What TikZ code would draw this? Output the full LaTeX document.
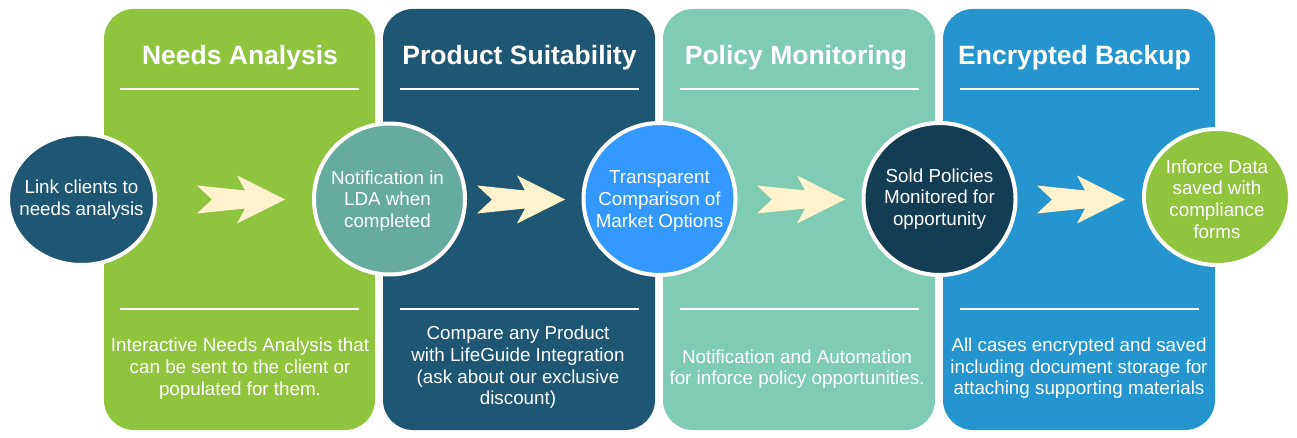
\documentclass[tikz,border=0pt]{standalone}
\usepackage{fontspec}
\setmainfont{Liberation Sans}
\usetikzlibrary{shapes.geometric}
\definecolor{pgreen}{HTML}{8FC43F}
\definecolor{pnavy}{HTML}{1E5674}
\definecolor{pmint}{HTML}{80CBB3}
\definecolor{pblue}{HTML}{2595CF}
\definecolor{cteal}{HTML}{66AB9E}
\definecolor{cbright}{HTML}{3399FF}
\definecolor{cdark}{HTML}{123D55}
\definecolor{arrowc}{HTML}{FFF2CC}
\begin{document}
\begin{tikzpicture}[x=1pt,y=-1pt,
  panel/.style={rounded corners=30pt},
  ttl/.style={text=white, anchor=base, inner sep=0pt, font=\fontsize{26.5}{30}\selectfont\bfseries},
  body/.style={text=white, align=center, inner sep=0pt, font=\fontsize{18.8}{21.6}\selectfont},
  rulel/.style={draw=white, line width=1.6pt},
  bubble/.style={draw=white, line width=4pt, inner sep=0pt},
  chev/.style={fill=arrowc}]
\useasboundingbox (0,0) rectangle (1297,438);
% panels
\fill[panel, pgreen] (104,9) rectangle (375,430);
\fill[panel, pnavy] (383,9) rectangle (655,430);
\fill[panel, pmint] (663,9) rectangle (935,430);
\fill[panel, pblue] (943,9) rectangle (1215,430);
% rules
\foreach \a/\b in {120/359, 400/639, 680/919, 960/1199}{
  \draw[rulel] (\a,89) -- (\b,89);
  \draw[rulel] (\a,309) -- (\b,309);
}
% titles
\node[ttl] (t1) at (240,65) {Needs Analysis};
\node[ttl] (t2) at (519.5,65) {Product Suitability};
\node[ttl] (t3) at (796,65) {Policy Monitoring};
\node[ttl] (t4) at (1074.5,65) {Encrypted Backup};
% bottom texts
\node[body] (b1) at (240,368.7) {Interactive Needs Analysis that\\can be sent to the client or\\populated for them.};
\node[body] (b2) at (518,367.5) {Compare any Product\\with LifeGuide Integration\\(ask about our exclusive\\discount)};
\node[body] (b3) at (797,369) {Notification and Automation\\for inforce policy opportunities.};
\node[body] (b4) at (1079,368.3) {All cases encrypted and saved\\including document storage for\\attaching supporting materials};
% arrows
\foreach \x in {197,477,757,1037}{
  \begin{scope}[shift={(\x,199.5)}]
    \fill[chev] (0,-14) -- (48,-9) -- (40,-24) -- (88,0) -- (40,24) -- (48,9) -- (0,14) -- (15,0) -- cycle;
  \end{scope}
}
% circles
\node[bubble, ellipse, fill=pnavy, minimum width=147pt, minimum height=131pt] (c1) at (81.5,199.5) {};
\node[bubble, circle, fill=cteal, minimum size=151pt] (c2) at (389.5,199) {};
\node[bubble, circle, fill=cbright, minimum size=152pt] (c3) at (659.5,199) {};
\node[bubble, circle, fill=cdark, minimum size=152pt] (c4) at (939.5,199) {};
\node[bubble, ellipse, fill=pgreen, minimum width=146pt, minimum height=136pt] (c5) at (1217,197) {};
\node[body] (l1) at (c1) {Link clients to\\needs analysis};
\node[body] (l2) at ([xshift=-2pt,yshift=-2pt]c2.center) {Notification in\\LDA when\\completed};
\node[body] (l3) at ([yshift=-2pt]c3.center) {Transparent\\Comparison of\\Market Options};
\node[body] (l4) at (c4) {Sold Policies\\Monitored for\\opportunity};
\node[body] (l5) at ([yshift=-2pt]c5.center) {Inforce Data\\saved with\\compliance\\forms};
\end{tikzpicture}
\end{document}
